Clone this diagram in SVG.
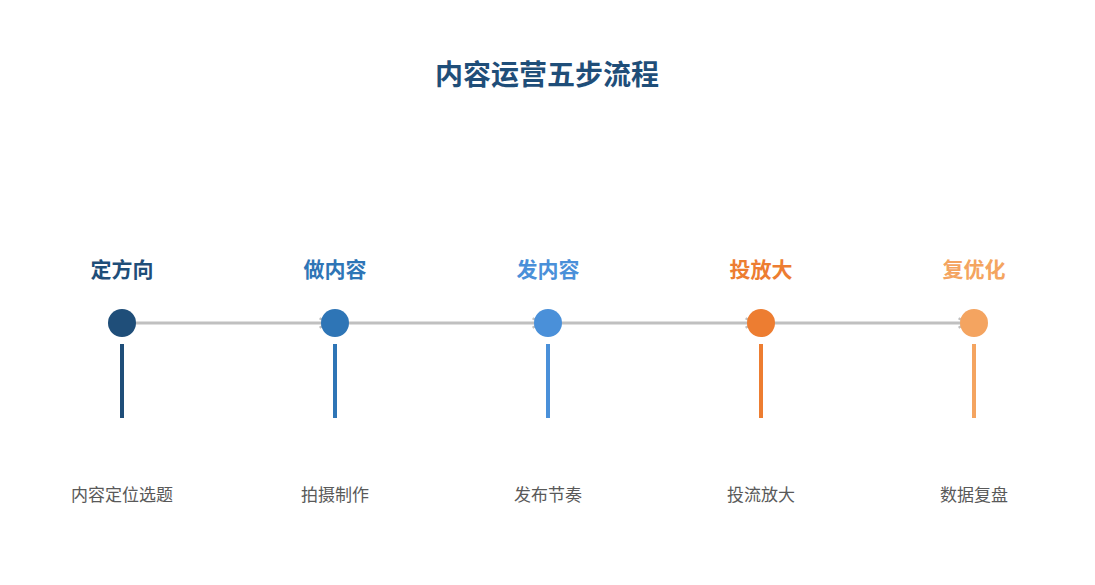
<svg xmlns="http://www.w3.org/2000/svg" width="1095" height="585" viewBox="0 0 1095 585">
<style>
.t{font-family:"Noto Sans CJK SC","Liberation Sans",sans-serif;text-anchor:middle}
.h{font-size:21px;font-weight:bold}
.d{font-size:17px;fill:#595959}
.c{stroke:#c0c0c0;stroke-width:3;fill:none}
</style>
<defs><marker id="a" viewBox="0 0 10 10" refX="8" refY="5" markerWidth="4" markerHeight="4" orient="auto"><path d="M1,1 L8,5 L1,9" fill="none" stroke="#c0c0c0" stroke-width="2"/></marker></defs>
<rect width="1095" height="585" fill="#fff"/>
<text class="t" x="547" y="85" font-size="28" font-weight="bold" fill="#1f4e79">内容运营五步流程</text>
<g id="connectors">
<line class="c" x1="122" y1="323" x2="328" y2="323" marker-end="url(#a)"/>
<line class="c" x1="335" y1="323" x2="541" y2="323" marker-end="url(#a)"/>
<line class="c" x1="548" y1="323" x2="754" y2="323" marker-end="url(#a)"/>
<line class="c" x1="761" y1="323" x2="967" y2="323" marker-end="url(#a)"/>
</g>
<g id="n1"><text class="t h" x="122" y="277" fill="#1f4e79">定方向</text><circle cx="122" cy="323" r="14" fill="#1f4e79"/><line x1="122" y1="344" x2="122" y2="418" stroke="#1f4e79" stroke-width="4"/><text class="t d" x="122" y="501">内容定位选题</text></g>
<g id="n2"><text class="t h" x="335" y="277" fill="#2e75b6">做内容</text><circle cx="335" cy="323" r="14" fill="#2e75b6"/><line x1="335" y1="344" x2="335" y2="418" stroke="#2e75b6" stroke-width="4"/><text class="t d" x="335" y="501">拍摄制作</text></g>
<g id="n3"><text class="t h" x="548" y="277" fill="#4a90d9">发内容</text><circle cx="548" cy="323" r="14" fill="#4a90d9"/><line x1="548" y1="344" x2="548" y2="418" stroke="#4a90d9" stroke-width="4"/><text class="t d" x="548" y="501">发布节奏</text></g>
<g id="n4"><text class="t h" x="761" y="277" fill="#ed7d31">投放大</text><circle cx="761" cy="323" r="14" fill="#ed7d31"/><line x1="761" y1="344" x2="761" y2="418" stroke="#ed7d31" stroke-width="4"/><text class="t d" x="761" y="501">投流放大</text></g>
<g id="n5"><text class="t h" x="974" y="277" fill="#f4a460">复优化</text><circle cx="974" cy="323" r="14" fill="#f4a460"/><line x1="974" y1="344" x2="974" y2="418" stroke="#f4a460" stroke-width="4"/><text class="t d" x="974" y="501">数据复盘</text></g>
</svg>
